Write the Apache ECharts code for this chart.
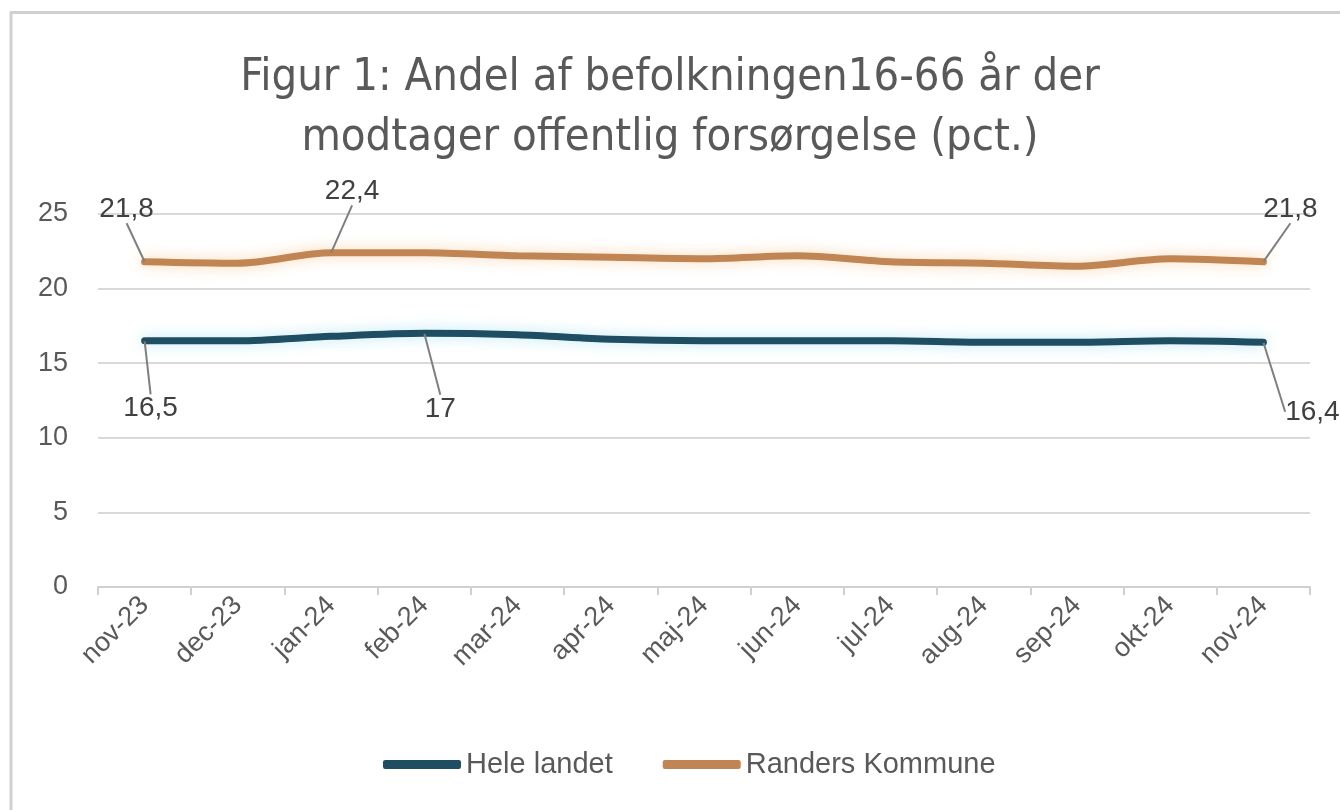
<!DOCTYPE html>
<html>
<head>
<meta charset="utf-8">
<script src="https://cdn.jsdelivr.net/npm/echarts@6/dist/echarts.min.js"></script>
<style>
html,body{margin:0;padding:0;background:#fff;}
#chart{width:1340px;height:810px;}
</style>
</head>
<body>
<div id="chart"></div>
<script>
const titleText = 'Figur 1: Andel af befolkningen16-66 år der\nmodtager offentlig forsørgelse (pct.)';
const categories = ['nov-23','dec-23','jan-24','feb-24','mar-24','apr-24','maj-24','jun-24','jul-24','aug-24','sep-24','okt-24','nov-24'];
const seriesNames = ['Hele landet', 'Randers Kommune'];
const heleLandet = [16.5, 16.5, 16.8, 17.0, 16.9, 16.6, 16.5, 16.5, 16.5, 16.4, 16.4, 16.5, 16.4];
const randers = [21.8, 21.7, 22.4, 22.4, 22.2, 22.1, 22.0, 22.2, 21.8, 21.7, 21.5, 22.0, 21.8];
const yTicks = [0, 5, 10, 15, 20, 25];

// which points carry a data label, and label offsets
const heleLabelIdx = {0: [6, 48], 3: [16, 56], 12: [49, 50]};
const randersLabelIdx = {0: [-18, -33], 2: [21, -42], 12: [27, -33]};

const fmt = v => String(v).replace('.', ',');
const font = '"Liberation Sans", Arial, sans-serif';
const titleFont = '"Liberation Sans Narrow", "DejaVu Sans Condensed", Roboto, sans-serif';

function buildData(values, labelIdx, pos) {
  return values.map((v, i) => {
    if (labelIdx[i] !== undefined) {
      return {value: v, label: {show: true, position: pos}, labelLine: {show: true}};
    }
    return {value: v};
  });
}

const chart = echarts.init(document.getElementById('chart'));
const option = {
  backgroundColor: '#ffffff',
  animation: false,
  title: {
    text: titleText,
    left: 'center',
    top: 43,
    textStyle: {fontFamily: titleFont, fontWeight: 400, fontSize: 45, color: '#595959', lineHeight: 60}
  },
  graphic: [
    {type: 'line', shape: {x1: 11, y1: 12, x2: 11, y2: 810}, style: {stroke: '#d0d0d0', lineWidth: 3}},
    {type: 'line', shape: {x1: 10, y1: 12.5, x2: 1340, y2: 12.5}, style: {stroke: '#d0d0d0', lineWidth: 3}}
  ],
  grid: {left: 98, right: 30, top: 214, bottom: 223, containLabel: false},
  legend: {
    bottom: 26,
    left: 378,
    itemWidth: 78,
    itemHeight: 9,
    itemGap: 50,
    icon: 'roundRect',
    textStyle: {fontFamily: font, fontSize: 29, color: '#595959'},
    data: seriesNames
  },
  xAxis: {
    type: 'category',
    data: categories,
    boundaryGap: true,
    axisLine: {lineStyle: {color: '#d0d0d0', width: 2}},
    axisTick: {show: true, length: 8, lineStyle: {color: '#d0d0d0', width: 2}},
    axisLabel: {rotate: 45, fontFamily: font, fontSize: 27, color: '#595959', margin: 14, interval: 0}
  },
  yAxis: {
    type: 'value',
    min: yTicks[0],
    max: yTicks[yTicks.length - 1],
    interval: 5,
    axisLine: {show: false},
    axisTick: {show: false},
    splitLine: {lineStyle: {color: '#d9d9d9', width: 2}},
    axisLabel: {fontFamily: font, fontSize: 27, color: '#595959', margin: 30}
  },
  series: [
    {
      name: seriesNames[0],
      type: 'line',
      smooth: 0.3,
      symbol: 'circle',
      symbolSize: 1,
      showSymbol: true,
      color: '#1f4e63',
      lineStyle: {width: 7, color: '#1f4e63', cap: 'round', shadowColor: 'rgba(150,220,240,0.7)', shadowBlur: 14},
      itemStyle: {color: '#1f4e63'},
      label: {show: false, formatter: p => fmt(p.value), fontFamily: font, fontSize: 28, color: '#404040'},
      labelLine: {show: true, lineStyle: {color: '#7f7f7f', width: 2}},
      labelLayout: p => {
        const o = heleLabelIdx[p.dataIndex];
        return o ? {dx: o[0], dy: o[1]} : {};
      },
      data: buildData(heleLandet, heleLabelIdx, 'bottom'),
      z: 3
    },
    {
      name: seriesNames[1],
      type: 'line',
      smooth: 0.3,
      symbol: 'circle',
      symbolSize: 1,
      showSymbol: true,
      color: '#c08552',
      lineStyle: {width: 7, color: '#c08552', cap: 'round', shadowColor: 'rgba(250,200,150,0.8)', shadowBlur: 14},
      itemStyle: {color: '#c08552'},
      label: {show: false, formatter: p => fmt(p.value), fontFamily: font, fontSize: 28, color: '#404040'},
      labelLine: {show: true, lineStyle: {color: '#7f7f7f', width: 2}},
      labelLayout: p => {
        const o = randersLabelIdx[p.dataIndex];
        return o ? {dx: o[0], dy: o[1]} : {};
      },
      data: buildData(randers, randersLabelIdx, 'top'),
      z: 3
    }
  ]
};
chart.setOption(option);
</script>
</body>
</html>
